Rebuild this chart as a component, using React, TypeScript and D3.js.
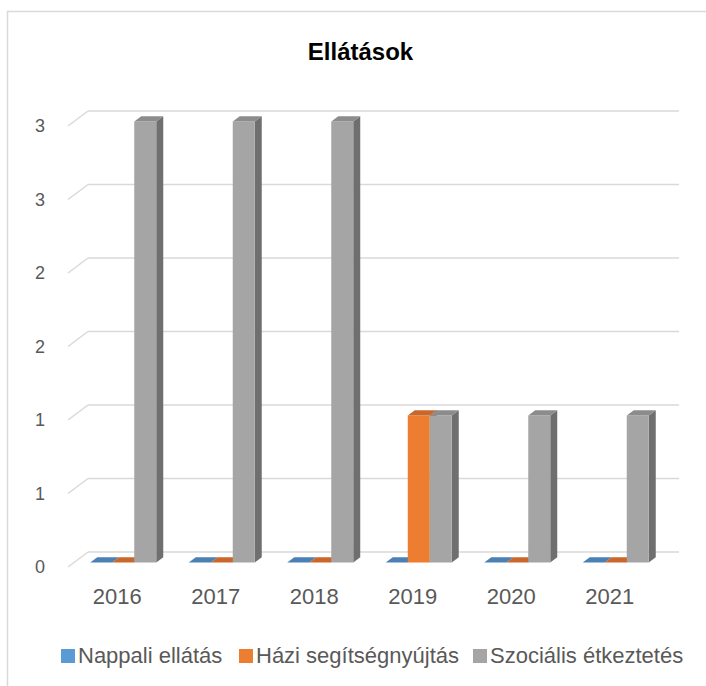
import React from "react";
import * as d3 from "d3";

const years = ["2016", "2017", "2018", "2019", "2020", "2021"];
const seriesNames = ["Nappali ellátás", "Házi segítségnyújtás", "Szociális étkeztetés"];
const nappali = [0, 0, 0, 0, 0, 0];
const hazi = [0, 0, 0, 1, 0, 0];
const szocialis = [3, 3, 3, 1, 1, 1];
const yTickValues = [0, 0.5, 1, 1.5, 2, 2.5, 3];
const yTickLabels = ["0", "1", "1", "2", "2", "3", "3"];
const title = "Ellátások";

const seriesValues = [nappali, hazi, szocialis];
const frontColors = ["#5B9BD5", "#ED7D31", "#A5A5A5"];
const topColors = ["#4a80b3", "#c9682a", "#8c8c8c"];
const sideColors = ["#3f6e99", "#b05a22", "#6f6f6f"];

const W = 706;
const H = 686;
const FONT = "'Liberation Sans', Arial, sans-serif";

export default function App() {
  // plot geometry (front plane)
  const left = 68;
  const right = 659;
  const floorY = 567;
  const topY = 126;
  const depthX = 20;
  const depthY = -15;
  const d1 = 0.3;
  const d2 = 0.65;

  const x0 = d3.scaleBand<string>().domain(years).range([left, right]).padding(0);
  const step = x0.step();
  const clusterW = step * 0.67;
  const x1 = d3
    .scaleBand<number>()
    .domain(d3.range(seriesNames.length))
    .range([0, clusterW])
    .padding(0);
  const y = d3.scaleLinear().domain([0, 3]).range([floorY, topY]);

  const off = (d: number) => [depthX * d, depthY * d];

  const bars: React.ReactNode[] = [];
  years.forEach((yr, i) => {
    const cx = (x0(yr) as number) + step / 2;
    const cl = cx - clusterW / 2;
    seriesValues.forEach((vals, s) => {
      const v = vals[i];
      const [fx, fy] = off(d1);
      const [bx, by] = off(d2);
      const xl = cl + (x1(s) as number);
      const xr = xl + x1.bandwidth();
      const yb = y(0);
      const yt = y(v);
      const line = d3.line();
      const front = [
        [xl + fx, yt + fy],
        [xr + fx, yt + fy],
        [xr + fx, yb + fy],
        [xl + fx, yb + fy],
      ] as [number, number][];
      const side = [
        [xr + fx, yt + fy],
        [xr + bx, yt + by],
        [xr + bx, yb + by],
        [xr + fx, yb + fy],
      ] as [number, number][];
      const top = [
        [xl + fx, yt + fy],
        [xl + bx, yt + by],
        [xr + bx, yt + by],
        [xr + fx, yt + fy],
      ] as [number, number][];
      const key = `${i}-${s}`;
      if (v > 0) {
        bars.push(<path key={key + "s"} d={line(side) + "Z"} fill={sideColors[s]} />);
        bars.push(<path key={key + "f"} d={line(front) + "Z"} fill={frontColors[s]} />);
      }
      bars.push(<path key={key + "t"} d={line(top) + "Z"} fill={v > 0 ? topColors[s] : topColors[s]} />);
    });
  });

  const legendX = [61, 239, 473];

  return (
    <svg
      width={W}
      height={H}
      style={{ position: "absolute", left: 0, top: 0, background: "#fff" }}
      fontFamily={FONT}
    >
      <rect x={7.5} y={11.5} width={720} height={700} fill="#fff" stroke="#d9d9d9" strokeWidth={1.5} />
      <text x={360.5} y={60} textAnchor="middle" fontSize={24} fontWeight="bold" fill="#000">
        {title}
      </text>
      {/* gridlines */}
      {yTickValues.map((t, k) => {
        const yf = y(t);
        return (
          <g key={"g" + k}>
            <line
              x1={left}
              y1={yf}
              x2={left + depthX}
              y2={yf + depthY}
              stroke="#d9d9d9"
              strokeWidth={1.5}
            />
            <line
              x1={left + depthX}
              y1={yf + depthY}
              x2={right + depthX}
              y2={yf + depthY}
              stroke="#d9d9d9"
              strokeWidth={1.5}
            />
            <text
              x={45}
              y={yf}
              dy="0.36em"
              textAnchor="end"
              fontSize={18}
              fill="#595959"
            >
              {yTickLabels[k]}
            </text>
          </g>
        );
      })}
      {bars}
      {years.map((yr) => (
        <text
          key={"x" + yr}
          x={(x0(yr) as number) + step / 2}
          y={604}
          textAnchor="middle"
          fontSize={22}
          fill="#595959"
        >
          {yr}
        </text>
      ))}
      {seriesNames.map((n, s) => (
        <g key={"l" + s}>
          <rect x={legendX[s]} y={649} width={14} height={14} fill={frontColors[s]} />
          <text x={legendX[s] + 17} y={663} fontSize={22} fill="#595959">
            {n}
          </text>
        </g>
      ))}
    </svg>
  );
}
